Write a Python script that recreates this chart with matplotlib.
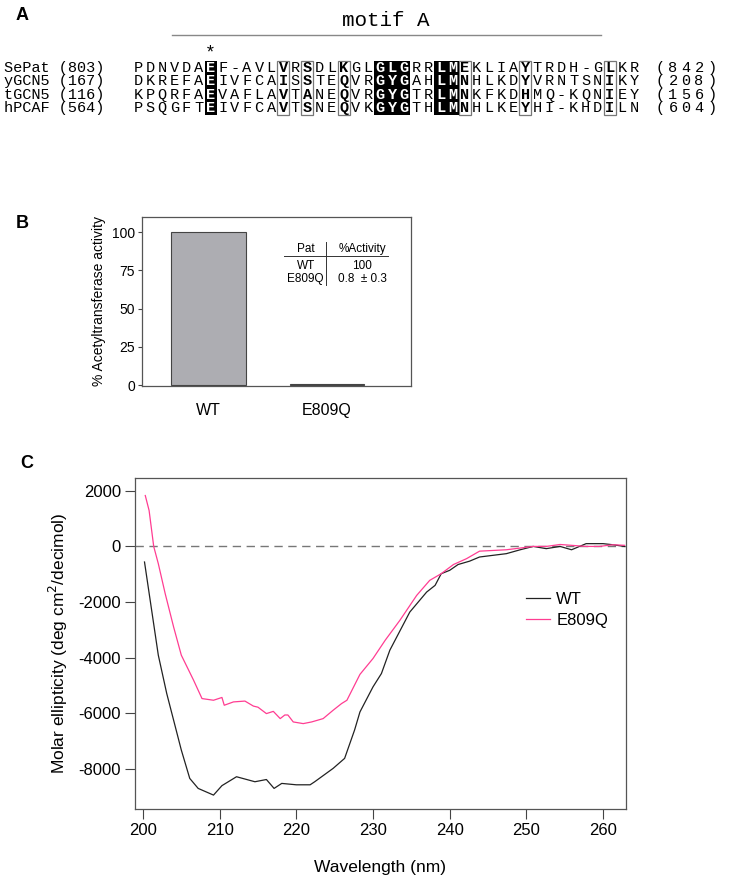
import numpy as np
import matplotlib
matplotlib.use('Agg')
import matplotlib.pyplot as plt
from matplotlib.patches import Rectangle

plt.rcParams['font.family'] = ['Liberation Sans', 'DejaVu Sans']
plt.rcParams['axes.unicode_minus'] = False

# ---- panel A: alignment ----
names = ['SePat', 'yGCN5', 'tGCN5', 'hPCAF']
starts = [803, 167, 116, 564]
ends = [842, 208, 156, 604]
seqs = ['PDNVDAEF-AVLVRSDLKGLGLGRRLMEKLIAYTRDH-GLKR',
        'DKREFAEIVFCAISSTEQVRGYGAHLMNHLKDYVRNTSNIKY',
        'KPQRFAEVAFLAVTANEQVRGYGTRLMNKFKDHMQ-KQNIEY',
        'PSQGFTEIVFCAVTSNEQVKGYGTHLMNHLKEYHI-KHDILN']
black_cols = [7, 21, 22, 23, 26, 27]      # identical, white on black
boxed_cols = [13, 15, 18, 28, 33, 40]     # similar, bold in a box
star_col = 7

# ---- panel B: activity ----
strains = ['WT', 'E809Q']
activity = [100, 0.8]
activity_err = [0, 0.3]

# ---- panel C: CD spectra ----
wt_nm = [200.2, 202.0, 203.1, 205.0, 206.1, 207.2, 209.2, 210.3, 212.2, 214.6,
         216.1, 217.1, 218.1, 220.0, 221.8, 222.4, 224.8, 226.3, 227.6, 228.3,
         230.0, 231.1, 232.2, 234.8, 237.0, 238.1, 238.9, 240.0, 241.1, 242.6,
         243.9, 247.4, 249.2, 250.9, 252.6, 254.4, 255.9, 257.8, 260.0, 261.3, 262.8]
wt_val = [-560, -3910, -5290, -7320, -8340, -8700, -8940, -8600, -8280, -8460,
          -8380, -8700, -8520, -8570, -8570, -8460, -7980, -7620, -6600, -5950,
          -5050, -4570, -3730, -2360, -1640, -1400, -980, -860, -650, -530,
          -380, -260, -120, 0, -80, 0, -120, 100, 100, 60, 0]
mut_nm = [200.3, 200.8, 201.4, 202.0, 202.9, 204.0, 205.0, 206.6, 207.7, 209.2,
          210.3, 210.6, 211.8, 213.3, 214.4, 215.0, 216.1, 217.0, 217.9, 218.5,
          218.9, 219.6, 220.9, 222.0, 223.5, 224.8, 225.9, 226.6, 228.3, 230.0,
          231.6, 233.5, 235.7, 237.4, 238.9, 240.5, 242.2, 243.9, 247.4, 250.9,
          252.6, 254.4, 257.8, 259.5, 261.3, 262.8]
mut_val = [1830, 1290, 0, -620, -1700, -2900, -3910, -4810, -5470, -5530,
           -5430, -5710, -5590, -5560, -5740, -5780, -6010, -5930, -6190, -6060,
           -6060, -6310, -6370, -6310, -6190, -5890, -5650, -5530, -4600, -4030,
           -3370, -2660, -1760, -1220, -980, -650, -440, -170, -120, 0,
           0, 70, 0, 0, 60, 40]

W, H = 729, 882
fig = plt.figure(figsize=(W / 100, H / 100), dpi=100)

# overlay in pixel coordinates for panel A and the panel letters
ov = fig.add_axes([0, 0, 1, 1])
ov.set_xlim(0, W)
ov.set_ylim(H, 0)
ov.axis('off')

mono = 'Liberation Mono'
x0, dx = 138, 12.1
y0, dy = 68, 13.4

ov.text(386, 20, 'motif A', family=mono, fontsize=15, ha='center', va='center')
ov.plot([172, 601], [35, 35], color='#888888', lw=1)
ov.text(x0 + (star_col - 1) * dx, 53, '*', family=mono, fontsize=13,
        ha='center', va='center')

for c in boxed_cols:
    cx = x0 + (c - 1) * dx
    ov.add_patch(Rectangle((cx - dx / 2, y0 - dy / 2), dx, dy * len(seqs),
                           fill=False, ec='#777777', lw=0.9))

for r, (nm, s, e, seq) in enumerate(zip(names, starts, ends, seqs)):
    y = y0 + r * dy
    ov.text(4, y, '%-5s (%d)' % (nm, s), family=mono, fontsize=11,
            ha='left', va='center')
    for i, ch in enumerate(seq):
        col = i + 1
        cx = x0 + i * dx
        color, weight = 'black', 'normal'
        if col in black_cols:
            ov.add_patch(Rectangle((cx - dx / 2, y - dy / 2), dx, dy,
                                   fc='black', ec='none'))
            color, weight = 'white', 'bold'
        elif col in boxed_cols:
            weight = 'bold'
        ov.text(cx, y, ch, family=mono, fontsize=11, color=color,
                weight=weight, ha='center', va='center')
    for j, ch in enumerate('(%d)' % e):
        ov.text(660 + j * 13, y, ch, family=mono, fontsize=11,
                ha='center', va='center')

for lab, (lx, ly) in zip('ABC', [(22, 15), (22, 223), (27, 463)]):
    ov.text(lx, ly, lab, fontsize=13, weight='bold', ha='center', va='center')

# ---- panel B ----
axb = fig.add_axes([142 / W, 1 - 386 / H, 269 / W, 169 / H])
xpos = [1, 2]
axb.bar(xpos, activity, width=0.63, color='#adadb2', edgecolor='#444444', lw=0.8)
axb.set_xlim(0.445, 2.706)
axb.set_ylim(-0.6, 110)
axb.set_yticks([0, 25, 50, 75, 100])
axb.set_xticks(xpos)
axb.set_xticklabels(strains, fontsize=11.5)
axb.tick_params(axis='x', length=0, pad=12)
axb.tick_params(axis='y', length=3, labelsize=10, pad=2, color='#444444')
axb.set_ylabel('% Acetyltransferase activity', fontsize=10, labelpad=4)
for sp in axb.spines.values():
    sp.set_color('#555555')
    sp.set_linewidth(0.9)

tk = dict(transform=axb.transAxes, fontsize=8.5, ha='center', va='center')
axb.text(0.61, 0.81, 'Pat', **tk)
axb.text(0.818, 0.81, '%Activity', **tk)
axb.text(0.61, 0.71, strains[0], **tk)
axb.text(0.818, 0.71, '%g' % activity[0], **tk)
axb.text(0.606, 0.633, strains[1], **tk)
axb.text(0.818, 0.633, '%g  \u00b1 %g' % (activity[1], activity_err[1]), **tk)
axb.plot([0.528, 0.915], [0.769, 0.769], color='#333333', lw=0.7,
         transform=axb.transAxes)
axb.plot([0.684, 0.684], [0.852, 0.598], color='#333333', lw=0.7,
         transform=axb.transAxes)

# ---- panel C ----
axc = fig.add_axes([135 / W, 1 - 809 / H, 491 / W, 331 / H])
axc.axhline(0, color='#777777', lw=1, dashes=(6, 4))
axc.plot(wt_nm, wt_val, color='#222222', lw=0.9, label='WT')
axc.plot(mut_nm, mut_val, color='#ff3d92', lw=0.9, label='E809Q')
axc.set_xlim(198.96, 263)
axc.set_ylim(-9440, 2460)
axc.set_xticks([200, 210, 220, 230, 240, 250, 260])
axc.set_yticks([2000, 0, -2000, -4000, -6000, -8000])
axc.tick_params(length=7, labelsize=12, pad=3, color='#444444')
axc.set_xlabel('Wavelength (nm)', fontsize=12.5, labelpad=16)
axc.set_ylabel('Molar ellipticity (deg cm$^2$/decimol)', fontsize=12.5, labelpad=6)
for sp in axc.spines.values():
    sp.set_color('#555555')
    sp.set_linewidth(0.9)
axc.legend(loc='upper left', bbox_to_anchor=(0.78, 0.68), frameon=False,
           fontsize=12, handlelength=1.4, handletextpad=0.4, borderpad=0,
           labelspacing=0.35)

fig.savefig('out.png', dpi=100)
